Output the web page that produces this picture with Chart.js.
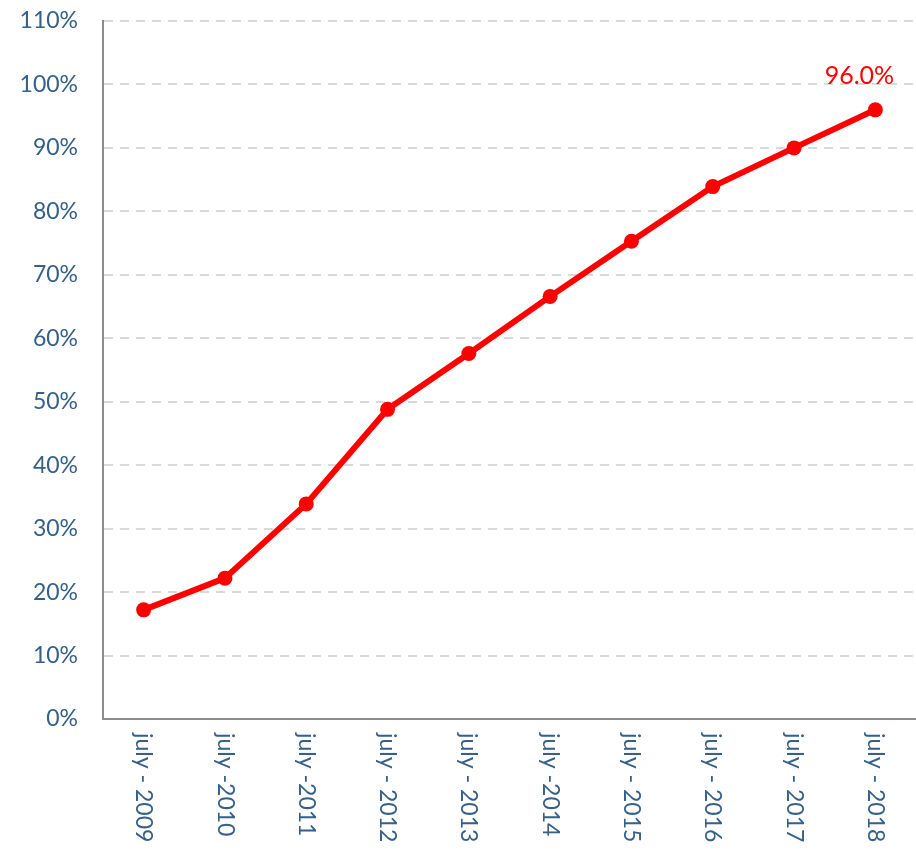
<!DOCTYPE html>
<html>
<head>
<meta charset="utf-8">
<script src="https://cdn.jsdelivr.net/npm/chart.js@4/dist/chart.umd.min.js"></script>
<style>
html,body{margin:0;padding:0;background:#fff;overflow:hidden;}
#wrap{width:916px;height:850px;position:relative;overflow:hidden;}
canvas{display:block;}
</style>
</head>
<body>
<div id="wrap"><canvas id="c" width="916" height="850"></canvas></div>
<script>
const categories = ["july - 2009","july -2010","july -2011","july - 2012","july - 2013","july -2014","july - 2015","july - 2016","july - 2017","july - 2018"];
const values = [17.2, 22.2, 33.9, 48.8, 57.6, 66.6, 75.3, 83.9, 90.0, 96.0];
const yTicks = [0,10,20,30,40,50,60,70,80,90,100,110];
const lastLabel = "96.0%";

const labelColor = "#35608A";
const fontFamily = "Lato, 'Open Sans', sans-serif";

const customLabels = {
  id: 'customLabels',
  afterDraw(chart) {
    const ctx = chart.ctx;
    const xs = chart.scales.x;
    const ys = chart.scales.y;
    ctx.save();
    ctx.fillStyle = labelColor;
    ctx.font = "23px " + fontFamily;
    ctx.textAlign = "left";
    ctx.textBaseline = "middle";
    categories.forEach((c, i) => {
      const x = xs.getPixelForValue(i);
      ctx.save();
      ctx.translate(x, ys.bottom + 14);
      ctx.rotate(Math.PI / 2);
      ctx.fillText(c, 0, 0);
      ctx.restore();
    });
    const li = values.length - 1;
    const px = xs.getPixelForValue(li);
    const py = ys.getPixelForValue(values[li]);
    ctx.fillStyle = "#FF0000";
    ctx.font = "25px " + fontFamily;
    ctx.textAlign = "center";
    ctx.textBaseline = "middle";
    ctx.fillText(lastLabel, px - 16, py - 34);
    ctx.restore();
  }
};

new Chart(document.getElementById('c'), {
  type: 'line',
  data: {
    labels: categories,
    datasets: [{
      data: values,
      borderColor: "#FF0000",
      backgroundColor: "#FF0000",
      borderWidth: 6,
      pointRadius: 7.5,
      pointHoverRadius: 7.5,
      pointBackgroundColor: "#FF0000",
      pointBorderWidth: 0,
      tension: 0,
      fill: false,
      clip: false
    }]
  },
  options: {
    responsive: false,
    animation: false,
    devicePixelRatio: 1,
    layout: { autoPadding: false, padding: { top: 21, right: 0, left: 0, bottom: 0 } },
    plugins: { legend: { display: false }, tooltip: { enabled: false } },
    scales: {
      x: {
        type: 'category',
        offset: true,
        grid: { display: false, drawTicks: false },
        border: { display: true, color: "#8C8C8C", width: 2 },
        ticks: { display: false },
        afterFit(scale) {
          scale.height = 131;
          scale.paddingLeft = 0; scale.paddingRight = 0;
          scale.paddingTop = 0; scale.paddingBottom = 0;
        }
      },
      y: {
        min: 0, max: 110,
        afterBuildTicks(scale) { scale.ticks = yTicks.map(v => ({ value: v })); },
        grid: { color: "#D9D9D9", lineWidth: 2, drawTicks: false },
        border: { display: true, color: "#8C8C8C", width: 2, dash: [9, 7] },
        ticks: {
          color: labelColor,
          font: { size: 23, family: fontFamily },
          padding: 25,
          callback: v => v + "%"
        },
        afterFit(scale) {
          scale.width = 103;
          scale.paddingTop = 0; scale.paddingBottom = 0;
          scale.paddingLeft = 0; scale.paddingRight = 0;
        }
      }
    }
  },
  plugins: [customLabels]
});
</script>
</body>
</html>
